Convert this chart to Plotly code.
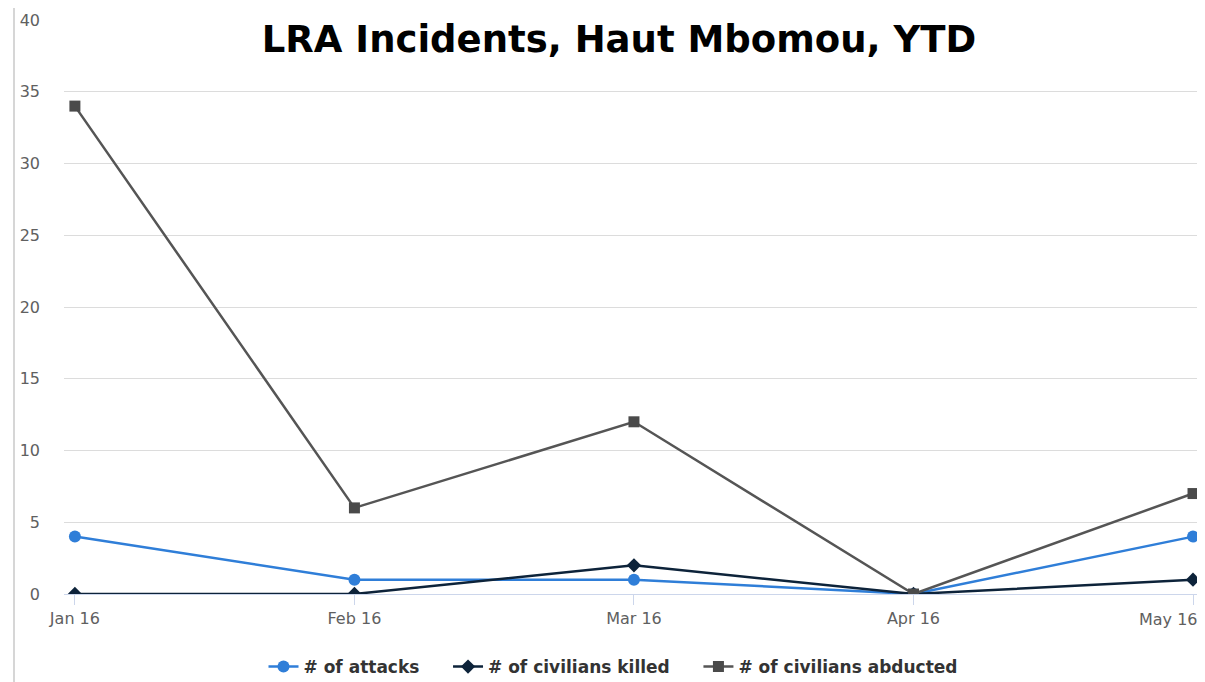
import plotly.graph_objects as go

months = ["Jan 16", "Feb 16", "Mar 16", "Apr 16", "May 16"]
attacks = [4, 1, 1, 0, 4]
killed = [0, 0, 2, 0, 1]
abducted = [34, 6, 12, 0, 7]

# the page adds an 8px body margin, so the figure is 8px smaller on each axis
W, H = 1197, 674
tickfont = dict(family="DejaVu Sans", size=16, color="#606060")
gap = "\u00a0" * 4  # extra spacing between legend entries

fig = go.Figure()
fig.add_trace(go.Scatter(x=months, y=attacks, name="# of attacks" + gap, mode="lines+markers",
                         line=dict(color="#2f7ed8", width=2.5),
                         marker=dict(symbol="circle", size=12, color="#2f7ed8")))
fig.add_trace(go.Scatter(x=months, y=killed, name="# of civilians killed" + gap, mode="lines+markers",
                         line=dict(color="#0d233a", width=2.5),
                         marker=dict(symbol="diamond", size=11, color="#0d233a")))
fig.add_trace(go.Scatter(x=months, y=abducted, name="# of civilians abducted", mode="lines+markers",
                         line=dict(color="#555555", width=2.5),
                         marker=dict(symbol="square", size=11, color="#4a4a4a")))

# last tick label is right-aligned to stay inside the picture
ticktext = months[:-1] + [""]
annotations = [dict(x=months[-1], y=0, xref="x", yref="y", text=months[-1], showarrow=False,
                    xanchor="right", yanchor="top", xshift=7, yshift=-14, font=tickfont)]

fig.update_layout(
    width=W, height=H,
    paper_bgcolor="white", plot_bgcolor="white",
    margin=dict(l=56, r=5, t=12, b=88, autoexpand=False),
    title=dict(text="<b>LRA Incidents, Haut Mbomou, YTD</b>", x=611 / W, xanchor="center", xref="container",
               y=1 - 31 / H, yanchor="middle", yref="container",
               font=dict(family="DejaVu Sans", size=37, color="black")),
    xaxis=dict(type="category", range=[-0.039, 4.025], showgrid=False,
               showline=True, linecolor="#ccd6eb", linewidth=1,
               ticks="outside", ticklen=10, tickcolor="#ccd6eb",
               tickmode="array", tickvals=months, ticktext=ticktext,
               tickfont=tickfont, automargin=False,
               zeroline=False),
    yaxis=dict(range=[0, 40], dtick=5, showgrid=True, gridcolor="#dcdcdc", gridwidth=1,
               zeroline=False, showline=False, ticks="",
               tickfont=tickfont, automargin=False,
               ticklabelstandoff=23),
    legend=dict(orientation="h", x=(605 - 56) / (W - 61), xanchor="center",
                y=(586 - 659) / 574, yanchor="middle",
                font=dict(family="DejaVu Sans", size=17, color="#333333", weight="bold"),
                itemwidth=30, tracegroupgap=0),
    showlegend=True,
    annotations=annotations,
    shapes=[dict(type="line", xref="paper", yref="paper", x0=-50 / 1136, x1=-50 / 1136, y0=-0.2, y1=1.1,
                 line=dict(color="#c8c8c8", width=1.5))],
)

fig.write_html("out.html")
